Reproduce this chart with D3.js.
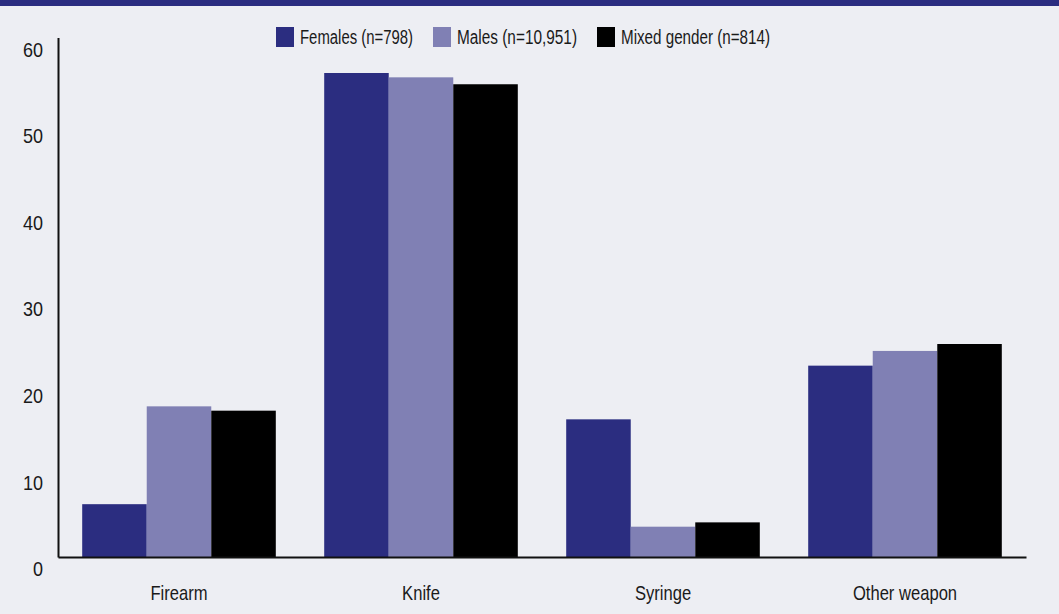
<!DOCTYPE html>
<html>
<head>
<meta charset="utf-8">
<script src="https://cdn.jsdelivr.net/npm/d3@7"></script>
<style>
html,body{margin:0;padding:0;background:#edeef3;}
svg{display:block;}
text{font-family:"Liberation Sans",Arial,sans-serif;fill:#1a1a1a;}
</style>
</head>
<body>
<svg id="chart" width="1059" height="614"></svg>
<script>
const categories = ["Firearm", "Knife", "Syringe", "Other weapon"];
const seriesNames = ["Females (n=798)", "Males (n=10,951)", "Mixed gender (n=814)"];
const females = [6.1, 55.9, 15.9, 22.1];
const males = [17.4, 55.4, 3.5, 23.8];
const mixed = [16.9, 54.6, 4.0, 24.6];
const yTicks = [0, 10, 20, 30, 40, 50, 60];
const colors = ["#2b2d80", "#8080b4", "#000000"];

const svg = d3.select("#chart");
const W = 1059, H = 614;
svg.append("rect").attr("width", W).attr("height", H).attr("fill", "#edeef3");
svg.append("rect").attr("width", W).attr("height", 6).attr("fill", "#2b2d80");

const series = [females, males, mixed];
const x = d3.scaleBand().domain(categories).range([58, 1026]).paddingInner(0.2).paddingOuter(0.1);
const xs = d3.scaleBand().domain(d3.range(3)).range([0, x.bandwidth()]);
const y = d3.scaleLinear().domain([0, 60]).range([557, 37.5]);

// bars
series.forEach((vals, si) => {
  svg.append("g").selectAll("rect").data(vals).join("rect")
    .attr("x", (d, i) => x(categories[i]) + xs(si))
    .attr("y", d => y(d))
    .attr("width", xs.bandwidth())
    .attr("height", d => y(0) - y(d))
    .attr("fill", colors[si]);
});

// y axis
const ySx = 0.9;
const yAxis = d3.axisLeft(y).tickValues(yTicks).tickSize(0).tickFormat(d3.format("d"));
const gy = svg.append("g").attr("transform", "translate(58,0)").call(yAxis);
gy.select(".domain").attr("stroke", "#111").attr("stroke-width", 2);
gy.selectAll(".tick text").attr("font-size", 20).attr("dy", null)
  .attr("x", -15 / ySx).attr("y", 18.7)
  .attr("transform", `scale(${ySx},1)`)
  .style("font-family", "'Liberation Sans',Arial,sans-serif").attr("fill", "#1a1a1a");

// x axis
const xSx = 0.83;
const xAxis = d3.axisBottom(x).tickSize(0);
const gx = svg.append("g").attr("transform", "translate(0,557)").call(xAxis);
gx.select(".domain").attr("stroke", "#111").attr("stroke-width", 2);
gx.selectAll(".tick text").attr("font-size", 20).attr("dy", null).attr("y", 43)
  .attr("transform", `scale(${xSx},1)`)
  .style("font-family", "'Liberation Sans',Arial,sans-serif").attr("fill", "#1a1a1a");

// legend
const legendX = [276, 433, 597];
const legendTextLen = [113, 120, 149];
const lg = svg.append("g");
seriesNames.forEach((name, i) => {
  lg.append("rect").attr("x", legendX[i]).attr("y", 27).attr("width", 18).attr("height", 20).attr("fill", colors[i]);
  lg.append("text").attr("x", legendX[i] + 24).attr("y", 43.5)
    .attr("font-size", 20)
    .attr("textLength", legendTextLen[i]).attr("lengthAdjust", "spacingAndGlyphs")
    .text(name);
});
</script>
</body>
</html>
